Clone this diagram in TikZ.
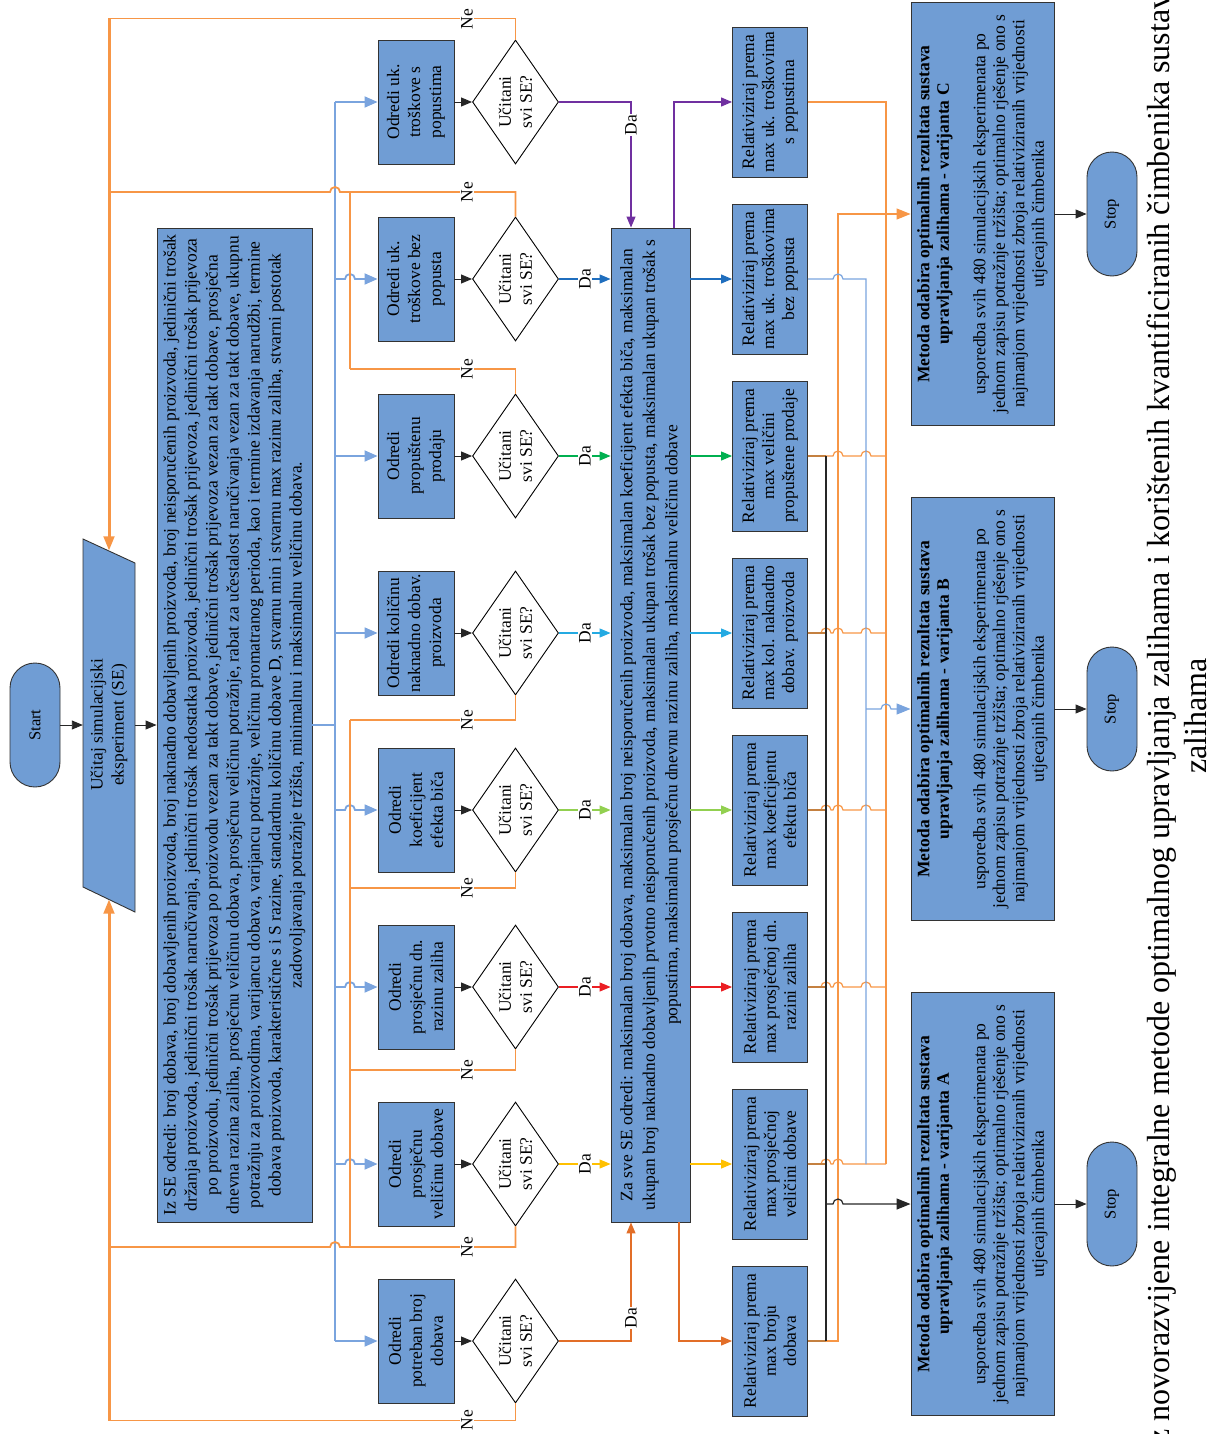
\documentclass[tikz,border=0pt]{standalone}
\usepackage{fontspec}
\setmainfont{Liberation Serif}
\usetikzlibrary{arrows.meta,shapes.geometric,calc}

\definecolor{boxblue}{RGB}{112,157,212}
\definecolor{busblue}{RGB}{122,164,222}
\definecolor{neorange}{RGB}{247,150,70}
\definecolor{dapurple}{RGB}{112,48,160}
\definecolor{dablue}{RGB}{31,110,190}
\definecolor{dagreen}{RGB}{0,176,80}
\definecolor{dacyan}{RGB}{36,170,226}
\definecolor{dalime}{RGB}{146,208,80}
\definecolor{dared}{RGB}{235,30,35}
\definecolor{dayellow}{RGB}{255,192,0}
\definecolor{darust}{RGB}{226,110,40}
\definecolor{mixbrown}{RGB}{196,128,64}

% line hops on horizontal lines (to the right / to the left)
\newcommand{\hopr}[2]{-- (#1-5,#2) arc[start angle=180,end angle=0,radius=5pt]}
\newcommand{\hopl}[2]{-- (#1+5,#2) arc[start angle=0,end angle=180,radius=5pt]}

\tikzset{
  boxline/.style={draw=black!80, line width=0.9pt},
  box/.style={boxline, fill=boxblue, rotate=90, align=center, inner sep=0pt},
  odredi/.style={box, minimum width=124pt, minimum height=76pt},
  relat/.style={box, minimum width=150pt, minimum height=75pt, font=\fontsize{17.5}{20}\selectfont},
  metoda/.style={box, minimum width=423pt, minimum height=143pt, font=\fontsize{17.5}{19.5}\selectfont},
  term/.style={box, rounded corners=25pt, minimum width=124pt, minimum height=50pt, font=\fontsize{16.5}{19}\selectfont},
  decide/.style={diamond, boxline, draw=black, fill=white, rotate=90, align=center, inner sep=0pt,
    shape aspect=1.45, minimum width=124pt, minimum height=86pt},
  lbl/.style={fill=white, rotate=90, inner sep=1pt},
  tip/.style={-{Triangle[length=11pt,width=9pt]}},
  arr/.style={tip, line width=0.9pt, black!85},
  ne/.style={neorange, line width=1.8pt},
  nethick/.style={neorange, line width=2.6pt},
  bus/.style={busblue, line width=2.4pt},
  busarr/.style={busblue, line width=1.8pt, -{Triangle[length=13pt,width=11pt]}},
  da/.style={#1, line width=1.1pt, tip},
  thin/.style={line width=1.2pt},
}

\begin{document}
\begin{tikzpicture}[x=1pt, y=-1pt, font=\fontsize{17.5}{21}\selectfont]
\useasboundingbox (0,0) rectangle (1208,1434);

%%%%% START %%%%%
\node[term] (start) at (35,725) {Start};
\draw[boxline, fill=boxblue] (83,539) -- (135,563) -- (135,912) -- (83,887) -- cycle;
\node[rotate=90, align=center, minimum width=349pt, minimum height=52pt, inner sep=0pt] (ucitaj) at (109,725) {Učitaj simulacijski\\eksperiment (SE)};

\node[box, minimum width=994pt, minimum height=155pt] (izse) at (234.5,725)
  {Iz SE odredi: broj dobava, broj dobavljenih proizvoda, broj naknadno dobavljenih proizvoda, broj neisporučenih proizvoda, jedinični trošak\\
   držanja proizvoda, jedinični trošak naručivanja, jedinični trošak nedostatka proizvoda, jedinični trošak prijevoza, jedinični trošak prijevoza\\
   po proizvodu, jedinični trošak prijevoza po proizvodu vezan za takt dobave, jedinični trošak prijevoza vezan za takt dobave, prosječna\\
   dnevna razina zaliha, prosječnu veličinu dobava, prosječnu veličinu potražnje, rabat za učestalost naručivanja vezan za takt dobave, ukupnu\\
   potražnju za proizvodima, varijancu dobava, varijancu potražnje, veličinu promatranog perioda, kao i termine izdavanja narudžbi, termine\\
   dobava proizvoda, karakteristične s i S razine, standardnu količinu dobave D, stvarnu min i stvarnu max razinu zaliha, stvarni postotak\\
   zadovoljavanja potražnje tržišta, minimalnu i maksimalnu veličinu dobava.};

\draw[arr] (start) -- (ucitaj);
\draw[arr] (ucitaj) -- (izse);

%%%%% ODREDI %%%%%
\node[odredi] (od1) at (416,102) {Odredi uk.\\troškove s\\popustima};
\node[odredi] (od2) at (416,279) {Odredi uk.\\troškove bez\\popusta};
\node[odredi] (od3) at (416,456) {Odredi\\propuštenu\\prodaju};
\node[odredi] (od4) at (416,633) {Odredi količinu\\naknadno dobav.\\proizvoda};
\node[odredi] (od5) at (416,810) {Odredi\\koeficijent\\efekta biča};
\node[odredi] (od6) at (416,987) {Odredi\\prosječnu dn.\\razinu zaliha};
\node[odredi] (od7) at (416,1164) {Odredi\\prosječnu\\veličinu dobave};
\node[odredi] (od8) at (416,1341) {Odredi\\potreban broj\\dobava};

\node[decide] (dm1) at (515.5,102) {Učitani\\svi SE?};
\node[decide] (dm2) at (515.5,279) {Učitani\\svi SE?};
\node[decide] (dm3) at (515.5,456) {Učitani\\svi SE?};
\node[decide] (dm4) at (515.5,633) {Učitani\\svi SE?};
\node[decide] (dm5) at (515.5,810) {Učitani\\svi SE?};
\node[decide] (dm6) at (515.5,987) {Učitani\\svi SE?};
\node[decide] (dm7) at (515.5,1164) {Učitani\\svi SE?};
\node[decide] (dm8) at (515.5,1341) {Učitani\\svi SE?};

% blue bus to all steps
\draw[bus] (izse) -- (335,725);
\draw[bus] (335,102) -- (335,1341);
\draw[busarr] (335,102) -- (od1);
\draw[busarr] (335,279) \hopr{350}{279} -- (od2);
\draw[busarr] (335,456) -- (od3);
\draw[busarr] (335,633) -- (od4);
\draw[busarr] (335,810) \hopr{350}{810} -- (od5);
\draw[busarr] (335,987) \hopr{350}{987} -- (od6);
\draw[busarr] (335,1164) \hopr{350}{1164} -- (od7);
\draw[busarr] (335,1341) -- (od8);

\draw[arr] (od1) -- (dm1);
\draw[arr] (od2) -- (dm2);
\draw[arr] (od3) -- (dm3);
\draw[arr] (od4) -- (dm4);
\draw[arr] (od5) -- (dm5);
\draw[arr] (od6) -- (dm6);
\draw[arr] (od7) -- (dm7);
\draw[arr] (od8) -- (dm8);

% "Ne" loops back to the read-in step
\draw[nethick] (110,19) -- (110,540);
\draw[nethick] (110,1420) -- (110,912);
\draw[ne, -{Triangle[length=14pt,width=11pt]}] (dm1.east) -- ++(0,-21) -| (ucitaj);
\draw[ne] (dm2.east) |- (350,192) \hopl{335}{192} -- (110,192);
\draw[ne] (dm3.east) |- (350,369);
\draw[nethick] (350,369) -- (350,192);
\draw[ne] (dm4.west) |- (350,720);
\draw[ne] (dm5.west) |- (350,888);
\draw[ne] (dm6.west) |- (350,1070);
\draw[nethick] (350,720) -- (350,1247);
\draw[ne] (dm7.west) |- (350,1247) \hopl{335}{1247} -- (110,1247);
\draw[ne, -{Triangle[length=14pt,width=11pt]}] (dm8.west) -- ++(0,17) -| (ucitaj);

\node[lbl] (ne1) at (467,19) {Ne};
\node[lbl] (ne2) at (467,192) {Ne};
\node[lbl] (ne3) at (467,369) {Ne};
\node[lbl] (ne4) at (467,720) {Ne};
\node[lbl] (ne5) at (467,888) {Ne};
\node[lbl] (ne6) at (467,1070) {Ne};
\node[lbl] (ne7) at (467,1247) {Ne};
\node[lbl] (ne8) at (467,1420) {Ne};

%%%%% ZA SVE SE %%%%%
\node[box, minimum width=994pt, minimum height=79pt, font=\fontsize{17.5}{22.5}\selectfont] (zasve) at (650.5,725)
  {Za sve SE odredi: maksimalan broj dobava, maksimalan broj neisporučenih proizvoda, maksimalan koeficijent efekta biča, maksimalan\\
   ukupan broj naknadno dobavljenih prvotno neisporučenih proizvoda, maksimalan ukupan trošak bez popusta, maksimalan ukupan trošak s\\
   popustima, maksimalnu prosječnu dnevnu razinu zaliha, maksimalnu veličinu dobave};

\draw[da=dapurple] (dm1.south) -| ($(zasve.east)+(-19.5,0)$);
\draw[da=dablue] (dm2.south) -- (zasve.north |- dm2);
\draw[da=dagreen] (dm3.south) -- (zasve.north |- dm3);
\draw[da=dacyan] (dm4.south) -- (zasve.north |- dm4);
\draw[da=dalime] (dm5.south) -- (zasve.north |- dm5);
\draw[da=dared] (dm6.south) -- (zasve.north |- dm6);
\draw[da=dayellow] (dm7.south) -- (zasve.north |- dm7);
\draw[da=darust] (dm8.south) -| ($(zasve.west)+(-19.5,0)$);

\node[lbl] (da1) at (631,125) {Da};
\node[lbl] (da2) at (585,279) {Da};
\node[lbl] (da3) at (585,456) {Da};
\node[lbl] (da4) at (585,633) {Da};
\node[lbl] (da5) at (585,810) {Da};
\node[lbl] (da6) at (585,987) {Da};
\node[lbl] (da7) at (585,1164) {Da};
\node[lbl] (da8) at (631,1318) {Da};

%%%%% RELATIVIZIRAJ %%%%%
\node[relat] (re1) at (770,102) {Relativiziraj prema\\max uk. troškovima\\s popustima};
\node[relat] (re2) at (770,279) {Relativiziraj prema\\max uk. troškovima\\bez popusta};
\node[relat] (re3) at (770,456) {Relativiziraj prema\\max veličini\\propuštene prodaje};
\node[relat] (re4) at (770,633) {Relativiziraj prema\\max kol. naknadno\\dobav. proizvoda};
\node[relat] (re5) at (770,810) {Relativiziraj prema\\max koeficijentu\\efektu biča};
\node[relat] (re6) at (770,987) {Relativiziraj prema\\max prosječnoj dn.\\razini zaliha};
\node[relat] (re7) at (770,1164) {Relativiziraj prema\\max prosječnoj\\veličini dobave};
\node[relat] (re8) at (770,1341) {Relativiziraj prema\\max broju\\dobava};

\draw[da=dapurple] ($(zasve.east)+(23.5,0)$) |- (re1);
\draw[da=dablue] (zasve.south |- re2) -- (re2);
\draw[da=dagreen] (zasve.south |- re3) -- (re3);
\draw[da=dacyan] (zasve.south |- re4) -- (re4);
\draw[da=dalime] (zasve.south |- re5) -- (re5);
\draw[da=dared] (zasve.south |- re6) -- (re6);
\draw[da=dayellow] (zasve.south |- re7) -- (re7);
\draw[da=darust] ($(zasve.west)+(28.5,0)$) |- (re8);

%%%%% METODA %%%%%
\node[metoda] (mC) at (982.5,214) {\textbf{Metoda odabira optimalnih rezultata sustava}\\\textbf{upravljanja zalihama - varijanta C}\\[17pt]
  usporedba svih 480 simulacijskih eksperimenata po\\jednom zapisu potražnje tržišta; optimalno rješenje ono s\\najmanjom vrijednosti zbroja relativiziranih vrijednosti\\utjecajnih čimbenika};
\node[metoda] (mB) at (982.5,709) {\textbf{Metoda odabira optimalnih rezultata sustava}\\\textbf{upravljanja zalihama - varijanta B}\\[17pt]
  usporedba svih 480 simulacijskih eksperimenata po\\jednom zapisu potražnje tržišta; optimalno rješenje ono s\\najmanjom vrijednosti zbroja relativiziranih vrijednosti\\utjecajnih čimbenika};
\node[metoda] (mA) at (982.5,1204) {\textbf{Metoda odabira optimalnih rezultata sustava}\\\textbf{upravljanja zalihama - varijanta A}\\[17pt]
  usporedba svih 480 simulacijskih eksperimenata po\\jednom zapisu potražnje tržišta; optimalno rješenje ono s\\najmanjom vrijednosti zbroja relativiziranih vrijednosti\\utjecajnih čimbenika};

\node[term] (stopC) at (1112,214) {Stop};
\node[term] (stopB) at (1112,709) {Stop};
\node[term] (stopA) at (1112,1204) {Stop};
\draw[arr] (mC) -- (stopC);
\draw[arr] (mB) -- (stopB);
\draw[arr] (mA) -- (stopA);

% variant C (orange)
\draw[thin, neorange] (re1.south) -- (886,102) -- (886,1164);
\draw[thin, neorange] (re3.south) \hopr{838}{456} \hopr{866}{456} -- (886,456);
\draw[thin, neorange] (re4.south) \hopr{826}{633} \hopr{838}{633} \hopr{866}{633} -- (886,633);
\draw[thin, neorange] (re5.south) \hopr{826}{810} \hopr{838}{810} \hopr{866}{810} -- (886,810);
\draw[thin, neorange] (re6.south) \hopr{826}{987} \hopr{838}{987} \hopr{866}{987} -- (886,987);
\draw[thin, neorange] (re7.south) \hopr{826}{1164} \hopr{838}{1164} -- (886,1164);
\draw[thin, neorange, -{Triangle[length=14pt,width=11pt]}] (re8.south) -- (838,1341) |- (mC);
% variant B (blue)
\draw[thin, busblue] (re2.south) \hopr{838}{279} -- (866,279) -- (866,1164);
\draw[thin, busblue, -{Triangle[length=14pt,width=11pt]}] (866,709) \hopr{886}{709} -- (mB);
% variant A (black)
\draw[thin, mixbrown] (re3.south) -- (826,456);
\draw[thin, mixbrown] (re4.south) -- (826,633);
\draw[thin, mixbrown] (re5.south) -- (826,810);
\draw[thin, mixbrown] (re6.south) -- (826,987);
\draw[thin, mixbrown] (re7.south) -- (826,1164);
\draw[thin, mixbrown] (re8.south) -- (826,1341);
\draw[thin, black!85] (826,456) -- (826,1341);
\draw[thin, black!85, -{Triangle[length=14pt,width=11pt]}] (826,1204) \hopr{838}{1204} -- (mA);

%%%%% CAPTION %%%%%
\node[rotate=90, align=center, inner sep=0pt, font=\fontsize{32}{37}\selectfont] (caption) at (1177,716)
  {iz novorazvijene integralne metode optimalnog upravljanja zalihama i korištenih kvantificiranih čimbenika sustava\\zalihama};
\end{tikzpicture}
\end{document}
